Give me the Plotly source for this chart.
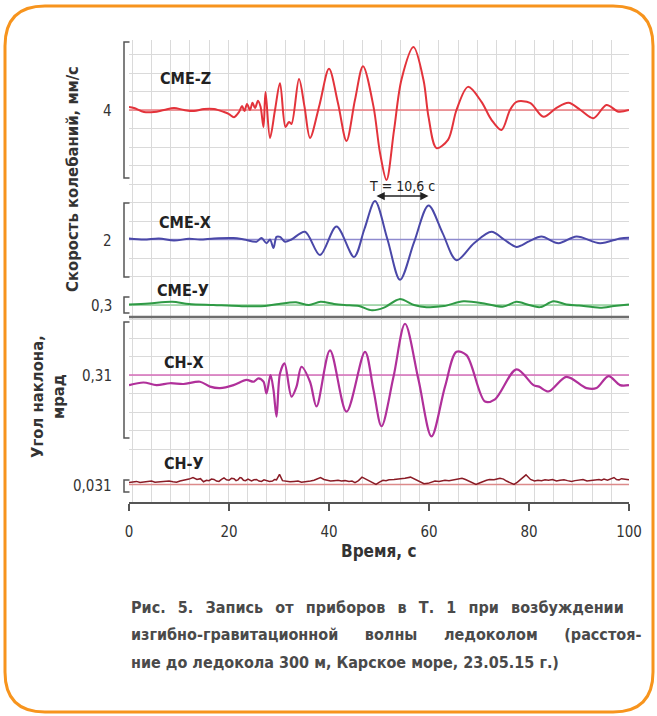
import plotly.graph_objects as go

# ---------------- data ----------------
time_cme_z = [0, 1, 3, 5, 7, 9, 11, 13, 15, 17, 19, 20, 21, 22, 22.6, 23.1, 23.6, 24.2, 24.7, 25.2,
              25.8, 26.3, 26.9, 27.3, 28.2, 29.2, 30.2, 31.3, 32.0, 32.5, 34.0, 35.1, 36.2, 38.1, 40.0,
              41.8, 43.5, 45.2, 46.8, 48.9, 50.2, 51.5, 53.0, 54.5, 56.9, 58.9, 59.9, 61.5, 63.8, 65.5,
              67.8, 70.5, 72.5, 74.5, 76.2, 77.5, 80.2, 82.9, 85.5, 87.9, 90.3, 92.9, 95.5, 97.9, 100]
cme_z = [0.09, 0.06, -0.06, -0.06, 0.0, 0.06, 0.0, -0.03, 0.03, 0.03, -0.06, -0.12, -0.21, -0.06, 0.12, -0.03,
         0.18, 0.0, 0.21, 0.06, 0.27, 0.1, -0.5, 0.53, -0.82, 0.0, 0.79, -0.5, -0.35, -0.41, 0.91, 0.1, -0.82,
         0.15, 1.21, 0.2, -0.91, 0.3, 1.29, 0.1, -1.26, -2.06, -0.6, 0.9, 1.85, 0.88, -0.2, -1.12, -0.88, 0.0,
         0.68, 0.24, -0.29, -0.59, 0.0, 0.24, 0.21, -0.2, 0.06, 0.21, 0.0, -0.24, 0.15, -0.05, 0.0]

time_cme_x = [0, 3, 6, 9, 12, 14.2, 17, 20.9, 23, 25.5, 26.5, 27.5, 28.2, 28.9, 29.5, 30.2, 31.2, 32.5, 35.2,
              38.2, 41.5, 45.0, 47.1, 49.2, 51.7, 54.2, 57.0, 59.9, 62.7, 65.5, 69.0, 72.5, 75.0, 77.5, 80.0,
              82.5, 85.9, 89.5, 94.2, 98.2, 100]
cme_x = [0.03, 0.0, 0.03, -0.03, 0.02, 0.0, 0.03, 0.04, 0.0, -0.06, 0.04, -0.1, 0.0, -0.23, 0.07, 0.07, -0.06,
         0.0, 0.21, -0.42, 0.35, -0.47, 0.29, 1.04, 0.0, -1.09, -0.08, 0.92, 0.18, -0.56, -0.1, 0.21, 0.0, -0.2,
         -0.05, 0.08, -0.1, 0.08, -0.1, 0.03, 0.05]

time_cme_y = [0, 4, 8.6, 12, 16.9, 22, 27.2, 30, 33.4, 36, 38.3, 41, 43.1, 46, 48.6, 51, 54.1, 57, 59.5, 63,
              66.9, 71.5, 74.9, 77.5, 80, 82.2, 84.9, 87.5, 90, 94.2, 97, 100]
cme_y = [0.01, 0.03, 0.06, 0.02, 0.0, -0.02, -0.02, 0.02, 0.05, 0.0, 0.06, 0.02, 0.0, -0.02, -0.1, -0.05, 0.11,
         0.0, -0.04, -0.02, 0.07, 0.02, -0.03, 0.06, 0.0, -0.04, 0.07, 0.01, -0.01, -0.05, -0.02, 0.01]

time_ch_x = [0, 2.9, 5.5, 8.2, 10.9, 14.2, 16.2, 18.2, 20.9, 23.5, 24.9, 25.9, 26.9, 27.5, 28.3, 28.9, 29.5,
             30.2, 31.1, 32.5, 33.5, 34.5, 36.2, 37.5, 40.2, 43.5, 47.2, 48.9, 50.5, 52.9, 55.2, 57.9, 60.5,
             63.2, 65.5, 67.5, 71.2, 73.2, 77.5, 80.9, 82.0, 83.9, 87.5, 91.5, 93.5, 95.9, 98.2, 100]
ch_x = [-0.027, -0.020, -0.027, -0.022, -0.024, -0.018, -0.031, -0.035, -0.027, -0.013, -0.018, -0.009,
        -0.018, -0.049, 0.0, -0.04, -0.111, 0.004, 0.031, -0.058, -0.031, 0.022, -0.018, -0.084, 0.066,
        -0.098, 0.062, -0.04, -0.137, -0.005, 0.137, -0.013, -0.164, -0.031, 0.062, 0.053, -0.071, -0.065,
        0.015, -0.027, -0.031, -0.044, -0.005, -0.035, -0.035, -0.003, -0.027, -0.027]

time_ch_y = [0, 0.8, 1.5, 2.2, 3, 3.8, 4.5, 5.2, 6, 7, 8, 8.8, 9.5, 10.2, 11, 12, 12.8, 13.6, 14.3, 14.9, 15.5,
             16, 16.5, 17, 17.5, 18, 18.5, 19, 19.5, 20, 20.5, 21, 21.4, 21.8, 22.2, 22.5, 22.9, 23.3, 23.8,
             24.5, 25, 25.5, 26, 26.5, 27, 27.5, 28.1, 28.7, 29.1, 29.5, 30.1, 30.7, 31.4, 32.2, 33, 33.8,
             34.5, 35.6, 36.3, 37, 37.7, 38.3, 39, 39.5, 40.3, 41, 41.8, 42.5, 43.2, 44, 44.6, 45.2, 45.9,
             46.6, 47.2, 47.8, 48.6, 49.4, 50.1, 50.8, 51.4, 52, 53, 54, 55.2, 56.3, 57, 57.5, 58.2, 59,
             59.8, 60.5, 61.2, 62, 62.6, 63.2, 64, 65, 65.8, 66.6, 67.3, 68, 68.7, 69.4, 70.1, 70.8, 71.5,
             72.1, 73, 74.2, 74.9, 75.5, 76.2, 77, 77.7, 78.3, 78.9, 79.4, 80.3, 81.1, 81.8, 82.5, 83.2,
             83.9, 84.7, 85.5, 86.2, 87, 87.7, 88.5, 89.2, 90, 90.8, 91.6, 92.5, 93.2, 94, 94.5, 95, 95.7,
             96.3, 97, 97.5, 98, 98.5, 99.2, 100]
ch_y = [0.005, 0.007, 0.008, 0.005, 0.006, 0.008, 0.009, 0.006, 0.007, 0.009, 0.009, 0.007, 0.006, 0.009,
        0.011, 0.014, 0.018, 0.013, 0.015, 0.007, 0.011, 0.010, 0.014, 0.013, 0.009, 0.008, 0.013, 0.017,
        0.012, 0.011, 0.016, 0.015, 0.010, 0.012, 0.018, 0.017, 0.011, 0.010, 0.014, 0.009, 0.012, 0.013,
        0.009, 0.008, 0.012, 0.011, 0.008, 0.009, 0.013, 0.012, 0.026, 0.010, 0.009, 0.007, 0.008, 0.009,
        0.006, 0.007, 0.009, 0.011, 0.015, 0.018, 0.013, 0.012, 0.009, 0.010, 0.011, 0.009, 0.010, 0.008,
        0.009, 0.005, 0.010, 0.019, 0.015, 0.012, 0.006, 0.0, 0.006, 0.011, 0.010, 0.012, 0.013, 0.014,
        0.016, 0.019, 0.015, 0.012, 0.008, 0.002, 0.003, 0.006, 0.009, 0.008, 0.010, 0.011, 0.010, 0.012,
        0.014, 0.016, 0.013, 0.009, 0.005, 0.0, 0.004, 0.008, 0.011, 0.013, 0.012, 0.016, 0.014, 0.009,
        0.005, 0.0, 0.006, 0.012, 0.018, 0.025, 0.013, 0.009, 0.011, 0.010, 0.012, 0.011, 0.013, 0.009,
        0.011, 0.012, 0.010, 0.008, 0.010, 0.011, 0.013, 0.009, 0.010, 0.012, 0.013, 0.011, 0.014, 0.011,
        0.015, 0.018, 0.013, 0.012, 0.015, 0.014, 0.012, 0.016]

channel_names = ["СМЕ-Z", "СМЕ-Х", "СМЕ-У", "СН-Х", "СН-У"]
scale_values = [4, 2, 0.3, 0.31, 0.031]
scale_labels = ["4", "2", "0,3", "0,31", "0,031"]
x_tick_values = [0, 20, 40, 60, 80, 100]
x_tick_labels = ["0", "20", "40", "60", "80", "100"]
period_label = "Т = 10,6 с"
y_title_speed = "Скорость колебаний, мм/с"
y_title_angle = "Угол наклона,<br>мрад"
x_title = "Время, с"
caption_words = [["Рис.", "5.", "Запись", "от", "приборов", "в", "Т.", "1", "при", "возбуждении"],
                 ["изгибно-гравитационной", "волны", "ледоколом", "(расстоя-"],
                 ["ние", "до", "ледокола", "300", "м,", "Карское", "море,", "23.05.15", "г.)"]]

series_t = [time_cme_z, time_cme_x, time_cme_y, time_ch_x, time_ch_y]
series_v = [cme_z, cme_x, cme_y, ch_x, ch_y]

# ---------------- styling / layout ----------------
colors = ["#e3333b", "#4a48a8", "#2f9a45", "#b0309a", "#8a1c26"]
base_colors = ["#ee7a7f", "#8e8ace", "#93d29c", "#d66cba", "#dc8a8a"]
shapes_line = ["spline", "spline", "spline", "spline", "linear"]
widths = [2, 2, 2, 2.2, 1.5]
caption_gaps = [" \u2002", " \u2003\u2002", " "]

W, H = 657, 716
ML, MR, MT, MB = 129, 28, 40, 214
PW = W - ML - MR
PH = H - MT - MB


def px_x(p):
    return (p - ML) / PW


def px_y(p):
    return (H - MB - p) / PH


panels = [
    dict(top=40, bot=190, base=110, btop=42, bbot=178, lab=(185, 79)),
    dict(top=190, bot=292, base=239.5, btop=203, bbot=277, lab=(185, 222)),
    dict(top=292, bot=317, base=305, btop=297, bbot=313, lab=(183, 290)),
    dict(top=317, bot=468, base=375, btop=322, bbot=438, lab=(184, 363)),
    dict(top=468, bot=502, base=484.5, btop=480, bbot=492, lab=(184, 463)),
]

NARROW = "Liberation Sans Narrow, DejaVu Sans Condensed, Arial Narrow, Roboto Condensed, Roboto, sans-serif"
GRID = "#dadada"

fig = go.Figure()
layout = dict(
    width=W, height=H,
    margin=dict(l=ML, r=MR, t=MT, b=MB, pad=0),
    paper_bgcolor="white", plot_bgcolor="rgba(0,0,0,0)",
    showlegend=False,
    hovermode=False,
)

shapes = []
annotations = []

for i, p in enumerate(panels):
    yname = "y" if i == 0 else f"y{i + 1}"
    axname = "yaxis" if i == 0 else f"yaxis{i + 1}"
    k = (p["bbot"] - p["btop"]) / scale_values[i]
    rng = [(p["base"] - p["bot"]) / k, (p["base"] - p["top"]) / k]
    layout[axname] = dict(
        domain=[px_y(p["bot"]), px_y(p["top"])], range=rng, anchor="x",
        showgrid=True, gridcolor=GRID, gridwidth=1, tickmode="linear", tick0=0, dtick=18.5 / k,
        showticklabels=False, ticks="", zeroline=False, showline=False, fixedrange=True,
    )
    fig.add_trace(go.Scatter(
        x=series_t[i], y=series_v[i], xaxis="x", yaxis=yname, mode="lines",
        line=dict(color=colors[i], width=widths[i], shape=shapes_line[i], smoothing=0.9),
        hoverinfo="skip"))
    shapes.append(dict(type="line", xref="x", yref=yname, x0=0, x1=100, y0=0, y1=0,
                       line=dict(color=base_colors[i], width=1.3), layer="between"))
    mid = (p["base"] - (p["btop"] + p["bbot"]) / 2) / k
    half = scale_values[i] / 2
    xa, xb = px_x(124), px_x(129.5)
    shapes.append(dict(type="path", xref="paper", yref=yname,
                       path=f"M {xb},{mid + half} L {xa},{mid + half} L {xa},{mid - half} L {xb},{mid - half}",
                       line=dict(color="#555555", width=1.5)))
    annotations.append(dict(text=scale_labels[i], xref="paper", yref=yname, x=px_x(114), y=0,
                            xanchor="right", yanchor="middle", showarrow=False, yshift=-1,
                            font=dict(family=NARROW, size=15, color="#333333")))
    annotations.append(dict(text=channel_names[i], xref="paper", yref="paper",
                            x=px_x(p["lab"][0]), y=px_y(p["lab"][1]), xanchor="center", yanchor="middle",
                            showarrow=False,
                            font=dict(family=NARROW, size=16, color="#222222", weight="bold")))

layout["xaxis"] = dict(
    range=[0, 100], anchor="y5", domain=[0, 1],
    tickmode="array", tickvals=x_tick_values, ticktext=x_tick_labels,
    showgrid=False, zeroline=False,
    showline=True, linecolor="#555555", linewidth=1.5,
    ticks="outside", ticklen=7, tickwidth=1.5, tickcolor="#555555",
    ticklabelstandoff=8,
    tickfont=dict(family=NARROW, size=15, color="#333333"),
    minor=dict(tickmode="linear", tick0=0.7, dtick=3.83, showgrid=True, gridcolor=GRID, gridwidth=1,
               ticks=""),
    fixedrange=True,
)

shapes.append(dict(type="line", xref="paper", yref="paper", x0=0, x1=1,
                   y0=px_y(317), y1=px_y(317), line=dict(color="#6e6e6e", width=2.5)))

i1 = max(range(len(cme_x)), key=lambda j: cme_x[j])
later = [j for j in range(len(cme_x)) if time_cme_x[j] > time_cme_x[i1] + 5]
i2 = max(later, key=lambda j: cme_x[j])
k2 = (panels[1]["bbot"] - panels[1]["btop"]) / scale_values[1]
arrow_y = (panels[1]["base"] - 196) / k2
annotations.append(dict(x=time_cme_x[i2], y=arrow_y, ax=time_cme_x[i1], ay=arrow_y,
                        xref="x", yref="y2", axref="x", ayref="y2", text="", showarrow=True,
                        arrowhead=2, arrowside="end+start", arrowsize=1.1, arrowwidth=1.5,
                        arrowcolor="#222222", standoff=0, startstandoff=0))
annotations.append(dict(text=period_label, x=(time_cme_x[i1] + time_cme_x[i2]) / 2, y=arrow_y,
                        xref="x", yref="y2", yshift=10, showarrow=False, xanchor="center",
                        yanchor="middle", font=dict(family=NARROW, size=14, color="#222222")))

annotations.append(dict(text=y_title_speed, xref="paper", yref="paper", x=px_x(72), y=px_y(179),
                        textangle=-90, showarrow=False, xanchor="center", yanchor="middle",
                        font=dict(family=NARROW, size=16.5, color="#333333", weight="bold")))
annotations.append(dict(text=y_title_angle, xref="paper", yref="paper", x=px_x(48), y=px_y(397),
                        textangle=-90, showarrow=False, xanchor="center", yanchor="middle",
                        font=dict(family=NARROW, size=16.5, color="#333333", weight="bold")))
annotations.append(dict(text=x_title, xref="paper", yref="paper", x=0.5, y=px_y(551),
                        showarrow=False, xanchor="center", yanchor="middle",
                        font=dict(family=NARROW, size=17, color="#333333", weight="bold")))

for j, words in enumerate(caption_words):
    annotations.append(dict(text=caption_gaps[j].join(words), xref="paper", yref="paper",
                            x=px_x(129), y=px_y(607 + 27.5 * j),
                            showarrow=False, xanchor="left", yanchor="middle",
                            font=dict(family=NARROW, size=16, color="#4a4a4a", weight="bold")))

L, T, R, B, r = 5, 6, 653, 712, 40


def P(x, y):
    return f"{px_x(x)},{px_y(y)}"


frame = (f"M {P(L + r, T)} L {P(R - r, T)} Q {P(R, T)} {P(R, T + r)} L {P(R, B - r)} "
         f"Q {P(R, B)} {P(R - r, B)} L {P(L + r, B)} Q {P(L, B)} {P(L, B - r)} "
         f"L {P(L, T + r)} Q {P(L, T)} {P(L + r, T)} Z")
shapes.append(dict(type="path", xref="paper", yref="paper", path=frame,
                   line=dict(color="#f7941d", width=3), layer="below"))

layout["shapes"] = shapes
layout["annotations"] = annotations
fig.update_layout(**layout)

fig.write_html("out.html", config={"displayModeBar": False, "staticPlot": True},
               post_script="document.body.style.margin='0px';document.body.style.padding='0px';")
